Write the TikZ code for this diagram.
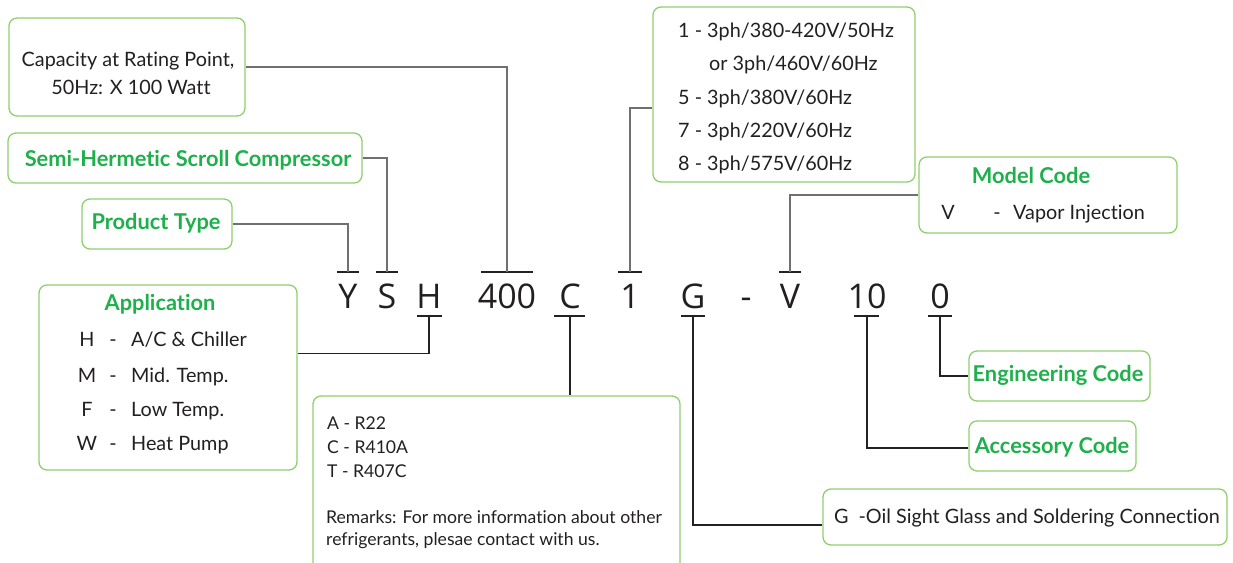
\documentclass[tikz,border=0pt]{standalone}
\usepackage{fontspec}
\setmainfont{Lato}[Ligatures=NoCommon]
\newfontfamily\codefont{Open Sans}
\definecolor{boxgreen}{HTML}{8DD06B}
\definecolor{txtgreen}{HTML}{1DB04B}
\definecolor{txtdark}{HTML}{231F20}
\definecolor{linegrey}{HTML}{707070}
\definecolor{linedark}{HTML}{222222}
\tikzset{
  gbox/.style={draw=boxgreen, line width=1.3pt, rounded corners=8pt, inner sep=0pt},
  txt/.style={inner sep=0pt, text=txtdark, font=\fontsize{19.8}{23}\selectfont, text height=14pt, text depth=0pt},
  smalltxt/.style={txt, font=\fontsize{17.6}{21}\selectfont, text height=13pt},
  ttl/.style={inner sep=0pt, text=txtgreen, font=\bfseries\fontsize{21.8}{25}\selectfont, text height=15pt, text depth=0pt},
  code/.style={inner sep=0pt, text=txtdark, font=\codefont\fontsize{34}{40}\selectfont, anchor=base},
  bar/.style={draw=linedark, line width=1.1pt},
  topline/.style={draw=linegrey, line width=1.1pt},
  botline/.style={draw=linedark, line width=1.1pt},
}
\newcommand{\boxat}[5]{\node[gbox, minimum width=#4-#2, minimum height=#5-#3] (#1) at ({(#2+#4)/2},{(#3+#5)/2}) {};}
\begin{document}
\begin{tikzpicture}[x=1pt,y=-1pt]
\useasboundingbox (0,0) rectangle (1233,562);
\begin{scope}
\clip (0,0) rectangle (1233,562);
% boxes
\boxat{cap}{9}{18}{245}{116}
\boxat{semi}{8}{133}{362}{183}
\boxat{prod}{82}{199}{232}{249}
\boxat{app}{39}{285}{297}{470}
\boxat{ref}{313}{396}{680}{620}
\boxat{volt}{653}{7}{915}{182}
\boxat{model}{919}{157}{1177}{233}
\boxat{eng}{969}{351}{1150}{401}
\boxat{acc}{969}{421}{1136}{471}
\boxat{gdesc}{823}{489}{1227}{545}
\end{scope}
% box texts
\node[txt] (cap1) at (128,59) {Capacity at Rating Point,};
\node[txt] (cap2) at (131,87) {50Hz: X 100 Watt};
\node[ttl] (semit) at (188,159) {Semi-Hermetic Scroll Compressor};
\node[ttl] (prodt) at (156,222) {Product Type};
\node[ttl] (appt) at (160,303) {Application};
\foreach \l/\t/\yy [count=\i] in {H/A{/}C \& Chiller/339, M/Mid. Temp./375, F/Low Temp./409, W/Heat Pump/443}{
  \node[txt] (appl\i) at (87,\yy) {\l};
  \node[txt] (appd\i) at (113,\yy) {-};
  \node[txt, anchor=west] (appx\i) at (131,\yy) {\t};
}
\node[smalltxt, anchor=west] (ref1) at (327,423) {A - R22};
\node[smalltxt, anchor=west] (ref2) at (327,447) {C - R410A};
\node[smalltxt, anchor=west] (ref3) at (327,471) {T - R407C};
\node[smalltxt, anchor=west] (ref4) at (326,517) {Remarks: For more information about other};
\node[smalltxt, anchor=west] (ref5) at (326,539) {refrigerants, plesae contact with us.};
\node[txt, anchor=west] (volt1) at (678,30) {1 - 3ph/380-420V/50Hz};
\node[txt, anchor=west] (volt2) at (709,63) {or 3ph/460V/60Hz};
\node[txt, anchor=west] (volt3) at (678,97) {5 - 3ph/380V/60Hz};
\node[txt, anchor=west] (volt4) at (678,130) {7 - 3ph/220V/60Hz};
\node[txt, anchor=west] (volt5) at (678,163) {8 - 3ph/575V/60Hz};
\node[ttl] (modelt) at (1031,176) {Model Code};
\node[txt] (modelv) at (948,212) {V};
\node[txt] (modeld) at (997,212) {-};
\node[txt, anchor=west] (modelx) at (1013,212) {Vapor Injection};
\node[ttl] (engt) at (1058,374) {Engineering Code};
\node[ttl] (acct) at (1052,446) {Accessory Code};
\node[txt] (gdt) at (1027,516) {G\hspace{0.5em}-Oil Sight Glass and Soldering Connection};
% code letters
\node[code] (cY) at (348,308) {Y};
\node[code] (cS) at (387,308) {S};
\node[code] (cH) at (429,308) {H};
\node[code] (c400) at (507,308) {400};
\node[code] (cC) at (570,308) {C};
\node[code] (c1) at (630,308) {1};
\node[code] (cG) at (693,308) {G};
\node[code] (cdash) at (746,308) {-};
\node[code] (cV) at (790,308) {V};
\node[code] (c10) at (867,308) {10};
\node[code] (c0) at (940,308) {0};
% bar coordinates
\coordinate (bY) at (348,272);
\coordinate (bS) at (387,272);
\coordinate (b400) at (507,272);
\coordinate (b1) at (630,272);
\coordinate (bV) at (790,272);
\coordinate (bH) at (429,316);
\coordinate (bC) at (570,316);
\coordinate (bG) at (693,316);
\coordinate (b10) at (867,316);
\coordinate (b0) at (940,316);
% bars
\draw[bar] (bY) ++(-11,0) -- ++(22,0);
\draw[bar] (bS) ++(-11,0) -- ++(22,0);
\draw[bar] (b400) ++(-26,0) -- ++(52,0);
\draw[bar] (b1) ++(-12,0) -- ++(24,0);
\draw[bar] (bV) ++(-11,0) -- ++(22,0);
\draw[bar] (bH) ++(-12,0) -- ++(25,0);
\draw[bar] (bC) ++(-16,0) -- ++(31,0);
\draw[bar] (bG) ++(-12,0) -- ++(24,0);
\draw[bar] (b10) ++(-13,0) -- ++(25,0);
\draw[bar] (b0) ++(-12,0) -- ++(24,0);
% connectors
\draw[topline] (cap.east) -| (b400);
\draw[topline] (semi.east) -| (bS);
\draw[topline] (prod.east) -| (bY);
\draw[topline] ([yshift=-13.5pt]volt.west) -| (b1);
\draw[topline] (model.west) -| (bV);
\draw[botline] (bH) |- ([yshift=24pt]app.east);
\draw[botline] (bC) -- (bC |- ref.north);
\draw[botline] (bG) |- ([yshift=-8pt]gdesc.west);
\draw[botline] (b10) |- ([yshift=-2pt]acc.west);
\draw[botline] (b0) |- (eng.west);
\end{tikzpicture}
\end{document}
